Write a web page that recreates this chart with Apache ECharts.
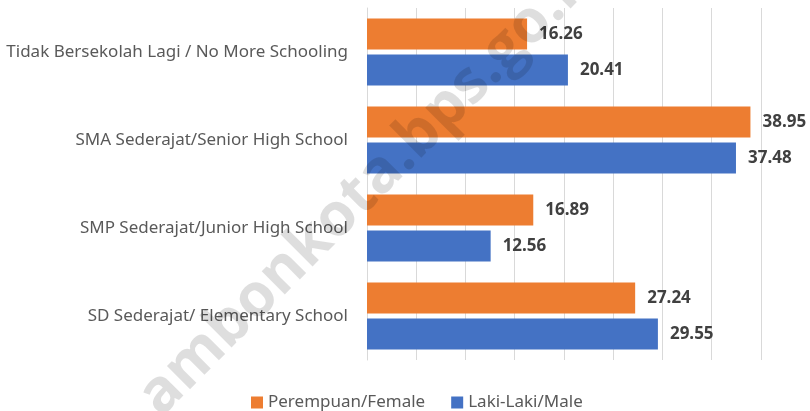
<!DOCTYPE html>
<html>
<head>
<meta charset="utf-8">
<script src="https://cdn.jsdelivr.net/npm/echarts@6/dist/echarts.min.js"></script>
<style>
  html, body {margin: 0; padding: 0; background: #fff;}
  #chart {width: 810px; height: 411px;}
</style>
</head>
<body>
<div id="chart"></div>
<script>
const categories = [
    'Tidak Bersekolah Lagi / No More Schooling',
    'SMA Sederajat/Senior High School',
    'SMP Sederajat/Junior High School',
    'SD Sederajat/ Elementary School'
];
const femaleValues = [16.26, 38.95, 16.89, 27.24];
const maleValues = [20.41, 37.48, 12.56, 29.55];
const seriesNames = ['Perempuan/Female', 'Laki-Laki/Male'];

const labelStyle = {show: true, position: 'right', distance: 12, color: '#404040',
    fontFamily: 'Noto Sans', fontSize: 17, fontWeight: 'bold'};

const option = {
    animation: false,
    textStyle: {fontFamily: 'Noto Sans'},
    grid: {left: 367, right: 0, top: 8, bottom: 51, containLabel: false},
    legend: {
        data: seriesNames,
        bottom: -5, left: 246,
        icon: 'rect', itemWidth: 12, itemHeight: 12, itemGap: 26,
        textStyle: {color: '#595959', fontSize: 17, fontFamily: 'Noto Sans'}
    },
    xAxis: {
        type: 'value', min: 0, max: 45, interval: 5,
        axisLabel: {show: false}, axisLine: {show: false}, axisTick: {show: false},
        splitLine: {lineStyle: {color: '#d9d9d9', width: 1}}
    },
    yAxis: {
        type: 'category', inverse: true, data: categories,
        axisLine: {lineStyle: {color: '#d9d9d9'}}, axisTick: {show: false},
        axisLabel: {color: '#595959', fontSize: 17, margin: 19, fontFamily: 'Noto Sans'}
    },
    series: [{
        name: seriesNames[0], type: 'bar', data: femaleValues,
        barWidth: 31, barGap: '16%',
        itemStyle: {color: '#ED7D31'},
        label: labelStyle
    }, {
        name: seriesNames[1], type: 'bar', data: maleValues,
        barWidth: 31,
        itemStyle: {color: '#4472C4'},
        label: labelStyle
    }],
    graphic: [{
        type: 'text', z: 100,
        x: 149, y: 406,
        rotation: 45 * Math.PI / 180,
        style: {
            text: 'ambonkota.bps.go.id',
            fill: 'rgba(0,0,0,0.13)',
            font: 'bold 60px "Open Sans"',
            textAlign: 'left', textVerticalAlign: 'middle'
        }
    }]
};
const myChart = echarts.init(document.getElementById('chart'));
myChart.setOption(option);
</script>
</body>
</html>
